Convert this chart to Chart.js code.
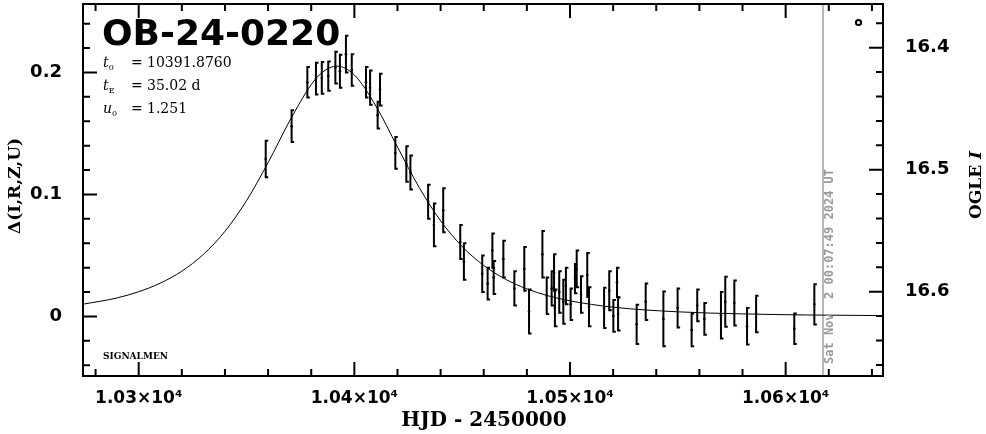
<!DOCTYPE html>
<html>
<head>
<meta charset="utf-8">
<script src="https://cdn.jsdelivr.net/npm/chart.js@4.4.1/dist/chart.umd.min.js"></script>
<style>
  html, body { margin: 0; padding: 0; background: #fff; }
  #wrap { width: 986px; height: 434px; }
</style>
</head>
<body>
<div id="wrap"><canvas id="lc"></canvas></div>
<script>
// OGLE photometry, HJD - 2450000 / delta mag / error
const hjd = [10358.9, 10370.9, 10378.2, 10382.2, 10384.9, 10387.9, 10391.2, 10393.3, 10396.1, 10398.8,
  10405.4, 10407.3, 10410.8, 10411.9, 10419.0, 10424.1, 10426.0, 10434.2, 10436.9, 10441.2,
  10449.1, 10450.8, 10459.3, 10461.8, 10464.0, 10464.6, 10469.1, 10474.2, 10478.8, 10481.0,
  10487.2, 10489.2, 10491.5, 10492.6, 10493.0, 10495.0, 10496.9, 10498.1, 10500.3, 10502.3,
  10503.1, 10505.1, 10508.0, 10508.8, 10515.8, 10518.2, 10520.1, 10521.8, 10522.3, 10530.9,
  10535.1, 10543.3, 10549.9, 10556.4, 10559.0, 10562.3, 10570.0, 10572.0, 10576.2, 10582.1,
  10586.3, 10604.0, 10613.3];
const delta = [0.129, 0.156, 0.192, 0.195, 0.1955, 0.197, 0.204, 0.201, 0.215, 0.202,
  0.192, 0.1875, 0.165, 0.186, 0.134, 0.125, 0.118, 0.094, 0.075, 0.087,
  0.061, 0.045, 0.035, 0.027, 0.054, 0.032, 0.047, 0.023, 0.039, 0.004,
  0.051, 0.017, 0.023, 0.036, 0.007, 0.020, 0.012, 0.025, 0.010, 0.031,
  0.039, 0.018, 0.034, 0.008, 0.007, 0.021, 0.0004, 0.028, 0.002, -0.0065,
  0.012, -0.002, 0.007, -0.011, 0.009, -0.002, 0.001, 0.012, 0.011, -0.008,
  0.002, -0.010, 0.010];
const deltaErr = [0.015, 0.013, 0.0125, 0.013, 0.013, 0.012, 0.013, 0.0135, 0.015, 0.013,
  0.0125, 0.014, 0.011, 0.013, 0.013, 0.0145, 0.014, 0.014, 0.0175, 0.018,
  0.014, 0.015, 0.015, 0.013, 0.014, 0.0135, 0.015, 0.014, 0.018, 0.018,
  0.019, 0.015, 0.014, 0.015, 0.015, 0.017, 0.018, 0.015, 0.013, 0.012,
  0.015, 0.015, 0.018, 0.016, 0.0165, 0.016, 0.013, 0.012, 0.0135, 0.016,
  0.015, 0.0225, 0.016, 0.0135, 0.013, 0.013, 0.019, 0.0205, 0.0185, 0.015,
  0.015, 0.0125, 0.0165];

// model curve
const modelHjd = [10274, 10290, 10300, 10310, 10320, 10330, 10340, 10350, 10360, 10370,
  10380, 10385, 10392, 10400, 10410, 10420, 10430, 10440, 10450, 10460,
  10470, 10480, 10490, 10500, 10520, 10550, 10580, 10610, 10646];
const modelDelta = [0.0100, 0.0152, 0.0203, 0.0273, 0.0371, 0.0509, 0.0698, 0.0949, 0.1261, 0.1603,
  0.1900, 0.1999, 0.2052, 0.1979, 0.1725, 0.1389, 0.1059, 0.0784, 0.0573, 0.0418,
  0.0306, 0.0226, 0.0169, 0.0128, 0.0076, 0.0038, 0.0021, 0.0012, 0.0007];

const xRange = [10274.17, 10645.14];
const deltaRange = [-0.0488, 0.2561];
const magRange = [16.3642, 16.6691];
const nowHjd = 10617.3;
const nowLabel = 'Sat Nov  2 00:07:49 2024 UT';
const eventName = 'OB-24-0220';
const fitParams = [['t', '0', '10391.8760'], ['t', 'E', '35.02 d'], ['u', '0', '1.251']];

const isMajor = (v, step) => Math.abs(v / step - Math.round(v / step)) < 1e-6;
const noPad = s => { s.paddingTop = 0; s.paddingBottom = 0; s.paddingLeft = 0; s.paddingRight = 0; };

const decor = {
  id: 'decor',
  beforeDatasetsDraw(chart) {
    const { ctx, scales: { x, y } } = chart;
    ctx.save();
    ctx.strokeStyle = '#000';
    ctx.lineWidth = 2;
    for (let i = 0; i < hjd.length; i++) {
      const px = x.getPixelForValue(hjd[i]);
      const y1 = y.getPixelForValue(delta[i] + deltaErr[i]);
      const y2 = y.getPixelForValue(delta[i] - deltaErr[i]);
      ctx.beginPath();
      ctx.moveTo(px, y1); ctx.lineTo(px, y2);
      ctx.moveTo(px - 1, y1); ctx.lineTo(px + 2.5, y1);
      ctx.moveTo(px - 1, y2); ctx.lineTo(px + 2.5, y2);
      ctx.stroke();
    }
    // current date line
    const nx = x.getPixelForValue(nowHjd);
    ctx.strokeStyle = '#a0a0a0';
    ctx.lineWidth = 1.5;
    ctx.beginPath();
    ctx.moveTo(nx, chart.chartArea.top); ctx.lineTo(nx, chart.chartArea.bottom);
    ctx.stroke();
    ctx.restore();
  },
  afterDraw(chart) {
    const { ctx, chartArea: a, scales: { x, y, y1 } } = chart;
    ctx.save();
    ctx.strokeStyle = '#000';
    ctx.lineWidth = 2;
    ctx.strokeRect(a.left, a.top, a.right - a.left, a.bottom - a.top);
    ctx.beginPath();
    x.ticks.forEach(t => {
      const px = x.getPixelForValue(t.value);
      const len = isMajor(t.value, 100) ? 14 : 7;
      ctx.moveTo(px, a.bottom); ctx.lineTo(px, a.bottom - len);
      ctx.moveTo(px, a.top); ctx.lineTo(px, a.top + len);
    });
    y.ticks.forEach(t => {
      const py = y.getPixelForValue(t.value);
      const len = isMajor(t.value, 0.1) ? 14 : 7;
      ctx.moveTo(a.left, py); ctx.lineTo(a.left + len, py);
    });
    y1.ticks.forEach(t => {
      const py = y1.getPixelForValue(t.value);
      const len = isMajor(t.value, 0.1) ? 14 : 7;
      ctx.moveTo(a.right, py); ctx.lineTo(a.right - len, py);
    });
    ctx.stroke();

    ctx.fillStyle = '#000';
    ctx.textBaseline = 'alphabetic';
    ctx.textAlign = 'left';
    ctx.font = 'bold 36px "DejaVu Sans"';
    ctx.fillText(eventName, 102, 45);

    const rows = [67, 90, 113];
    fitParams.forEach((p, i) => {
      let px = 103;
      ctx.font = 'italic 14px "DejaVu Serif"';
      ctx.fillText(p[0], px, rows[i]);
      px += ctx.measureText(p[0]).width;
      ctx.font = '8px "DejaVu Serif"';
      ctx.fillText(p[1], px, rows[i] + 3);
      ctx.font = '14px "DejaVu Serif"';
      ctx.fillText('=', 131, rows[i]);
      ctx.fillText(p[2], 147, rows[i]);
    });

    ctx.font = 'bold 9px "DejaVu Serif"';
    ctx.fillText('SIGNALMEN', 103, 359);

    // circle marker top right
    ctx.beginPath();
    ctx.lineWidth = 2;
    ctx.arc(858.5, 22.5, 2.6, 0, Math.PI * 2);
    ctx.stroke();

    // axis titles
    ctx.textAlign = 'center';
    ctx.textBaseline = 'middle';
    ctx.font = 'bold 20px "DejaVu Serif"';
    ctx.fillText('HJD - 2450000', 484, 421);

    ctx.save();
    ctx.translate(16, 186);
    ctx.rotate(-Math.PI / 2);
    ctx.font = 'bold 17px "DejaVu Serif"';
    ctx.fillText('\u0394(I,R,Z,U)', 0, 0);
    ctx.restore();

    ctx.save();
    ctx.translate(977, 185);
    ctx.rotate(-Math.PI / 2);
    ctx.textAlign = 'left';
    ctx.font = 'bold 17px "DejaVu Serif"';
    const w1 = ctx.measureText('OGLE ').width;
    ctx.font = 'bold italic 17px "DejaVu Serif"';
    const w2 = ctx.measureText('I').width;
    ctx.font = 'bold 17px "DejaVu Serif"';
    ctx.fillText('OGLE ', -(w1 + w2) / 2, 0);
    ctx.font = 'bold italic 17px "DejaVu Serif"';
    ctx.fillText('I', -(w1 + w2) / 2 + w1, 0);
    ctx.restore();

    // timestamp
    ctx.save();
    ctx.translate(830, 364);
    ctx.rotate(-Math.PI / 2);
    ctx.textAlign = 'left';
    ctx.fillStyle = '#999';
    ctx.font = 'bold 12px "DejaVu Sans Mono"';
    ctx.fillText(nowLabel, 0, 0);
    ctx.restore();

    ctx.restore();
  }
};

const tickFont = { family: 'DejaVu Sans', weight: 'bold', size: 18 };

new Chart(document.getElementById('lc'), {
  data: {
    datasets: [{
      type: 'scatter',
      data: hjd.map((t, i) => ({ x: t, y: delta[i] })),
      pointRadius: 1.3,
      pointBackgroundColor: '#000',
      pointBorderWidth: 0,
      yAxisID: 'y'
    }, {
      type: 'line',
      data: modelHjd.map((t, i) => ({ x: t, y: modelDelta[i] })),
      borderColor: '#000',
      borderWidth: 1,
      pointRadius: 0,
      cubicInterpolationMode: 'monotone',
      yAxisID: 'y'
    }]
  },
  options: {
    responsive: true,
    maintainAspectRatio: false,
    animation: false,
    devicePixelRatio: 1,
    layout: { padding: { top: 1, left: 0, right: 0, bottom: 0 } },
    plugins: { legend: { display: false }, tooltip: { enabled: false } },
    scales: {
      x: {
        type: 'linear',
        position: 'bottom',
        min: xRange[0],
        max: xRange[1],
        grid: { display: false },
        border: { display: false },
        ticks: {
          stepSize: 20,
          includeBounds: false,
          autoSkip: false,
          maxRotation: 0,
          padding: 4,
          color: '#000',
          font: { family: 'DejaVu Sans', weight: 'bold', size: 17 },
          callback: v => isMajor(v, 100) ? (v / 10000).toFixed(2) + '\u00d710\u2074' : ''
        },
        afterFit: s => { noPad(s); s.height = 58; }
      },
      y: {
        type: 'linear',
        position: 'left',
        min: deltaRange[0],
        max: deltaRange[1],
        grid: { display: false },
        border: { display: false },
        ticks: {
          stepSize: 0.02,
          includeBounds: false,
          autoSkip: false,
          padding: 13,
          color: '#000',
          font: tickFont,
          callback: v => isMajor(v, 0.1) ? String(Math.round(v * 10) / 10) : ''
        },
        afterFit: s => { noPad(s); s.width = 83; }
      },
      y1: {
        type: 'linear',
        position: 'right',
        reverse: true,
        min: magRange[0],
        max: magRange[1],
        grid: { display: false },
        border: { display: false },
        ticks: {
          stepSize: 0.02,
          includeBounds: false,
          autoSkip: false,
          padding: 14,
          color: '#000',
          font: tickFont,
          callback: v => isMajor(v, 0.1) ? (Math.round(v * 10) / 10).toFixed(1) : ''
        },
        afterFit: s => { noPad(s); s.width = 103; }
      }
    }
  },
  plugins: [decor]
});
</script>
</body>
</html>
